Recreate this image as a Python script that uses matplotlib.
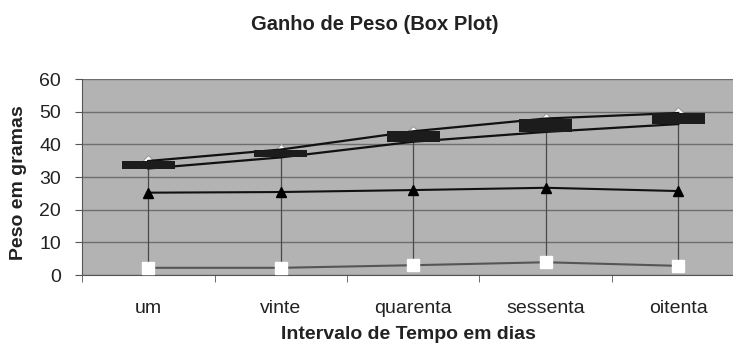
import matplotlib
matplotlib.use("Agg")
import matplotlib.pyplot as plt
import numpy as np

plt.rcParams['font.family'] = ['Liberation Sans', 'DejaVu Sans']

categorias = ['um', 'vinte', 'quarenta', 'sessenta', 'oitenta']
maximo = [35.2, 38.6, 44.2, 48.1, 49.9]
q3 = [34.9, 38.4, 44.0, 47.9, 49.6]
mediana = [25.2, 25.4, 26.0, 26.7, 25.7]
q1 = [32.6, 36.0, 40.8, 43.8, 46.2]
minimo = [2.2, 2.2, 3.0, 3.9, 2.8]

x = np.arange(len(categorias))
q3a = np.array(q3)
q1a = np.array(q1)

fig = plt.figure(figsize=(7.33, 3.45), dpi=100)
W, H = 733, 345
left, right, top, bottom = 82, 744.5, 79, 275
ax = fig.add_axes([left / W, (H - bottom) / H, (right - left) / W, (bottom - top) / H])
ax.set_facecolor('#b3b3b3')

# high-low lines
ax.vlines(x, minimo, maximo, color='#4a4a4a', lw=0.9, zorder=2)
# max markers
ax.plot(x, maximo, ls='none', marker='D', ms=5.5, mfc='white', mec='#9a9a9a', mew=0.8, zorder=2.5)
# Q3 / Q1 lines
ax.plot(x, q3, color='#111111', lw=1.6, zorder=3)
ax.plot(x, q1, color='#111111', lw=1.6, zorder=3)
# boxes
ax.bar(x, q3a - q1a, bottom=q1a, width=0.4, color='#1c1c1c', zorder=4)
# median
ax.plot(x, mediana, color='#111111', lw=1.5, marker='^', ms=7.5, mfc='black', mec='black', zorder=5)
# min
ax.plot(x, minimo, color='#555555', lw=1.5, marker='s', ms=8, mfc='white', mec='white', zorder=5)

ax.set_xlim(-0.5, len(categorias) - 0.5)
ax.set_ylim(0, 60)
ax.set_yticks(np.arange(0, 61, 10))
ax.yaxis.grid(True, color='#6e6e6e', lw=1)
ax.set_axisbelow(True)
ax.tick_params(axis='y', labelsize=14, length=5, color='#555555', pad=10, labelcolor='#222222')

ax.set_xticks(x)
ax.set_xticklabels(categorias)
ax.set_xticks(np.arange(-0.5, len(categorias) - 0.4, 1), minor=True)
ax.tick_params(axis='x', which='major', length=0, labelsize=14, pad=18, labelcolor='#222222')
ax.tick_params(axis='x', which='minor', length=5, color='#555555', direction='out')

for s in ['top', 'right']:
    ax.spines[s].set_visible(False)
ax.spines['left'].set_color('#555555')
ax.spines['bottom'].set_color('#555555')

fig.text(18.5 / W, 1 - 183 / H, 'Peso em gramas', fontsize=14, fontweight='bold',
         rotation=90, ha='center', va='center', color='#222222')
fig.text(408 / W, 1 - 339 / H, 'Intervalo de Tempo em dias', fontsize=14, fontweight='bold',
         ha='center', va='baseline', color='#222222')
fig.text(375 / W, 1 - 30 / H, 'Ganho de Peso (Box Plot)', fontsize=14.5, fontweight='bold',
         ha='center', va='baseline', color='#222222')

fig.savefig('out.png', dpi=100)
